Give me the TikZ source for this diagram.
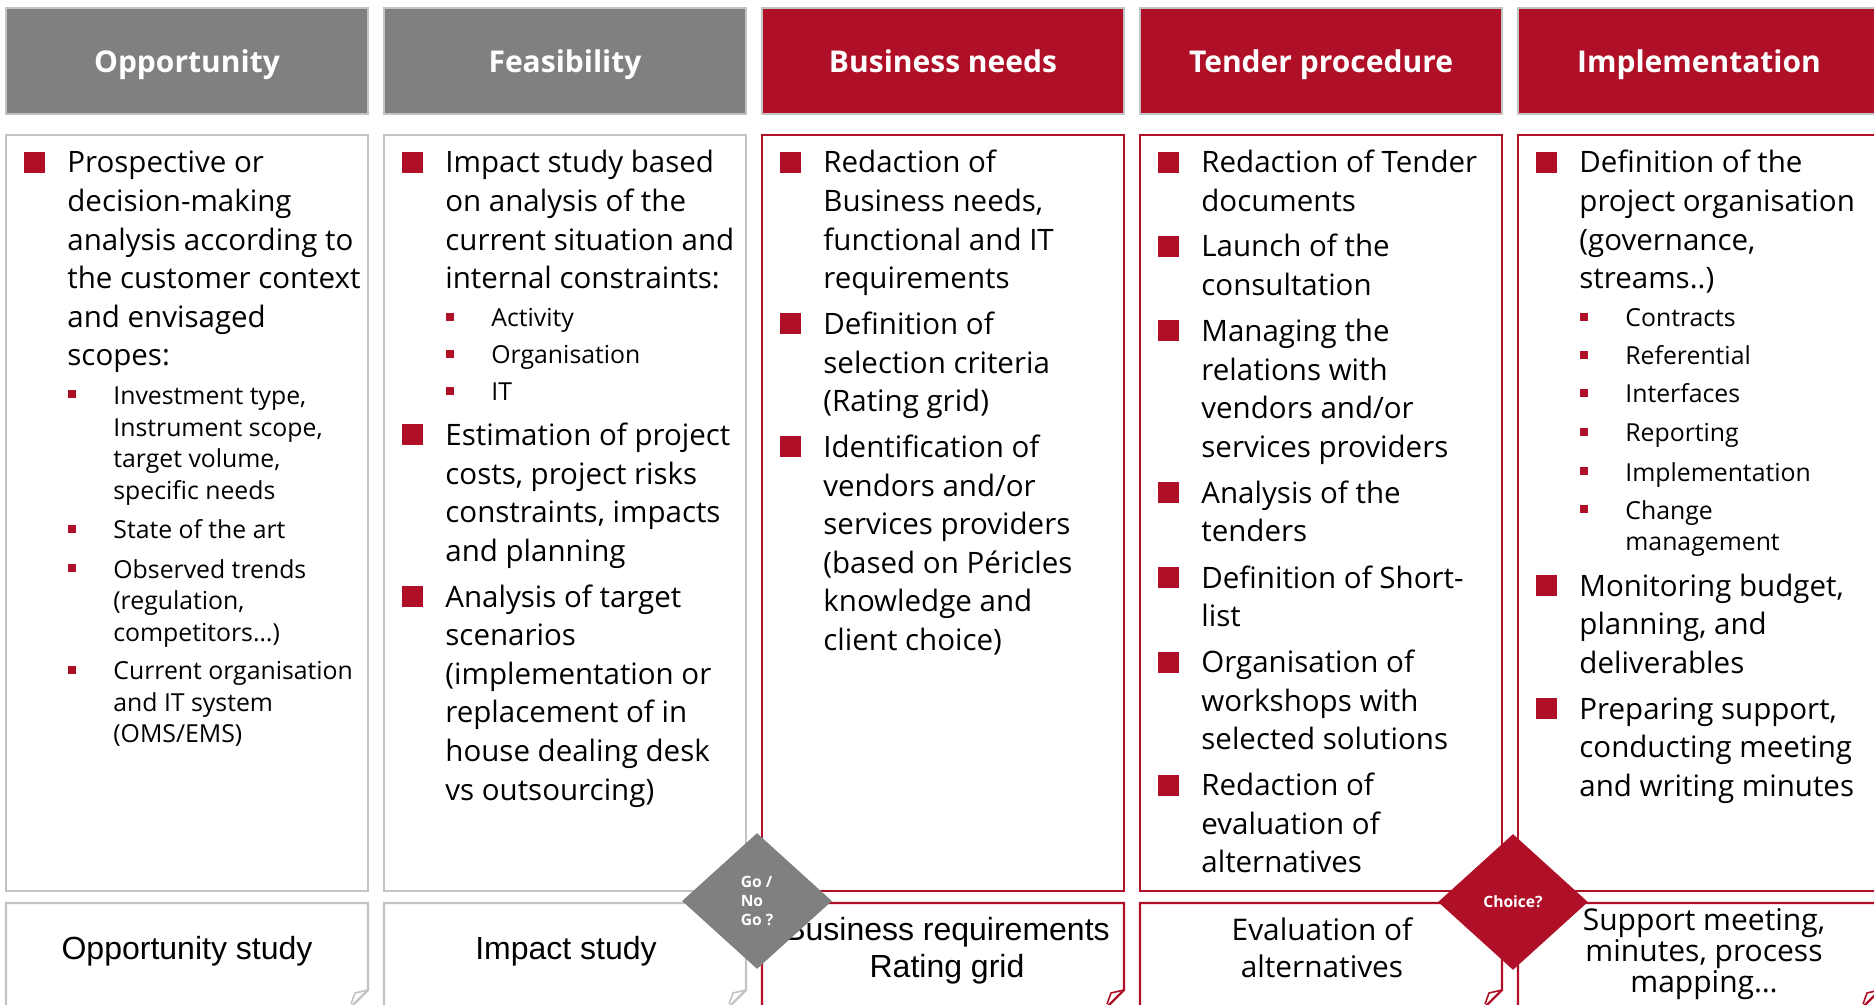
\documentclass[tikz,border=0pt]{standalone}
\usepackage{fontspec}
\setmainfont{Open Sans}
\newfontfamily\arialfont{Liberation Sans}
\usetikzlibrary{shapes.geometric}

\definecolor{brandred}{HTML}{B01027}
\definecolor{headgray}{HTML}{808080}
\definecolor{rimgray}{HTML}{C3C3C3}

\newcommand{\leftlines}[1]{\begin{tabular}[t]{@{}l@{}}#1\end{tabular}}
\newcommand{\midlines}[1]{\begin{tabular}[t]{@{}c@{}}#1\end{tabular}}
\newcommand{\bigitem}[4]{%
  \fill[brandred] (#2+18,#3-21) rectangle ++(21,21);
  \node[bodytext] (#1) at (#2+61,#3) {\leftlines{#4}};}
\newcommand{\smallitem}[4]{%
  \fill[brandred] (#2+62,#3-14) rectangle ++(8,8);
  \node[subtext] (#1) at (#2+107,#3) {\leftlines{#4}};}
\newcommand{\notebox}[2]{%
  \draw[#2, line width=1.1pt] (#1,1015) -- (#1,903) -- (#1+362,903) -- (#1+362,990) -- (#1+344,1008);
  \draw[#2, line width=0.8pt] (#1+362,990) -- (#1+349,993) -- (#1+345,1004);}

\begin{document}
\begin{tikzpicture}
[
    x=0.5pt, y=-0.5pt,
    headbox/.style={draw=rimgray, line width=0.6pt, minimum width=181pt, minimum height=53pt, inner sep=0pt, text height=11.2pt, text depth=0pt, text=white, font=\fontsize{15}{18}\selectfont\bfseries},
    panel/.style={line width=1.1pt, minimum width=181pt, minimum height=378pt, inner sep=0pt},
    bodytext/.style={anchor=base west, inner sep=0pt, font=\fontsize{14.75}{19.3}\selectfont},
    subtext/.style={anchor=base west, inner sep=0pt, font=\fontsize{12.4}{15.85}\selectfont},
    outtext/.style={anchor=base, inner sep=0pt, font=\fontsize{14.9}{18.5}\selectfont},
    arialtext/.style={outtext, font=\arialfont\fontsize{16}{18.5}\selectfont},
    gate/.style={diamond, inner sep=0pt, minimum width=75pt, minimum height=68pt, text=white, font=\fontsize{7.8}{9.5}\selectfont\bfseries},
]
\useasboundingbox[fill=white] (0,0) rectangle (1874,1005);
\clip (0,0) rectangle (1874,1005);

% phase headers
\node[headbox, fill=headgray] (hOpp) at (187,61) {Opportunity};
\node[headbox, fill=headgray] (hFea) at (565,61) {Feasibility};
\node[headbox, fill=brandred] (hBus) at (943,61) {Business needs};
\node[headbox, fill=brandred] (hTen) at (1321,61) {Tender procedure};
\node[headbox, fill=brandred] (hImp) at (1699,61) {Implementation};

% content panels
\node[panel, draw=rimgray] (pOpp) at (187,513) {};
\node[panel, draw=rimgray] (pFea) at (565,513) {};
\node[panel, draw=brandred] (pBus) at (943,513) {};
\node[panel, draw=brandred] (pTen) at (1321,513) {};
\node[panel, draw=brandred] (pImp) at (1699,513) {};

% Opportunity
\bigitem{oppA}{6}{173}{Prospective or\\decision-making\\analysis according to\\the customer context\\and envisaged\\scopes:}
\smallitem{oppA1}{6}{404.5}{Investment type,\\Instrument scope,\\target volume,\\specific needs}
\smallitem{oppA2}{6}{538.5}{State of the art}
\smallitem{oppA3}{6}{578}{Observed trends\\(regulation,\\competitors…)}
\smallitem{oppA4}{6}{679.5}{Current organisation\\and IT system\\(OMS/EMS)}

% Feasibility
\bigitem{feaA}{384}{173}{Impact study based\\on analysis of the\\current situation and\\internal constraints:}
\smallitem{feaA1}{384}{327}{Activity}
\smallitem{feaA2}{384}{364}{Organisation}
\smallitem{feaA3}{384}{401}{IT}
\bigitem{feaB}{384}{445.5}{Estimation of project\\costs, project risks\\constraints, impacts\\and planning}
\bigitem{feaC}{384}{607}{Analysis of target\\scenarios\\(implementation or\\replacement of in\\house dealing desk\\vs outsourcing)}

% Business needs
\bigitem{busA}{762}{173}{Redaction of\\Business needs,\\functional and IT\\requirements}
\bigitem{busB}{762}{334.5}{Definition of\\selection criteria\\(Rating grid)}
\bigitem{busC}{762}{457.5}{Identification of\\vendors and/or\\services providers\\(based on Péricles\\knowledge and\\client choice)}

% Tender procedure
\bigitem{tenA}{1140}{173}{Redaction of Tender\\documents}
\bigitem{tenB}{1140}{257}{Launch of the\\consultation}
\bigitem{tenC}{1140}{341.5}{Managing the\\relations with\\vendors and/or\\services providers}
\bigitem{tenD}{1140}{503}{Analysis of the\\tenders}
\bigitem{tenE}{1140}{588}{Definition of Short-\\list}
\bigitem{tenF}{1140}{672.5}{Organisation of\\workshops with\\selected solutions}
\bigitem{tenG}{1140}{795.5}{Redaction of\\evaluation of\\alternatives}

% Implementation
\bigitem{impA}{1518}{173}{Definition of the\\project organisation\\(governance,\\streams..)}
\smallitem{impA1}{1518}{327}{Contracts}
\smallitem{impA2}{1518}{365}{Referential}
\smallitem{impA3}{1518}{403}{Interfaces}
\smallitem{impA4}{1518}{442}{Reporting}
\smallitem{impA5}{1518}{481}{Implementation}
\smallitem{impA6}{1518}{519}{Change\\management}
\bigitem{impB}{1518}{596}{Monitoring budget,\\planning, and\\deliverables}
\bigitem{impC}{1518}{719}{Preparing support,\\conducting meeting\\and writing minutes}

% deliverables
\notebox{6}{rimgray}
\notebox{384}{rimgray}
\notebox{762}{brandred}
\notebox{1140}{brandred}
\notebox{1518}{brandred}
\node[arialtext] (oOpp) at (187,959) {Opportunity study};
\node[arialtext] (oFea) at (566,959) {Impact study};
\node[arialtext] (oBus) at (947,940) {\midlines{Business requirements\\Rating grid}};
\node[outtext] (oTen) at (1322,940) {\midlines{Evaluation of\\alternatives}};
\node[outtext, font=\fontsize{15}{15.5}\selectfont] (oImp) at (1704,930) {\midlines{Support meeting,\\minutes, process\\mapping…}};

% decision points
\node[gate, fill=headgray, align=left] (goNoGo) at (757,901) {Go /\\No\\Go ?};
\node[gate, fill=brandred] (choice) at (1513,902) {Choice?};
\end{tikzpicture}
\end{document}
